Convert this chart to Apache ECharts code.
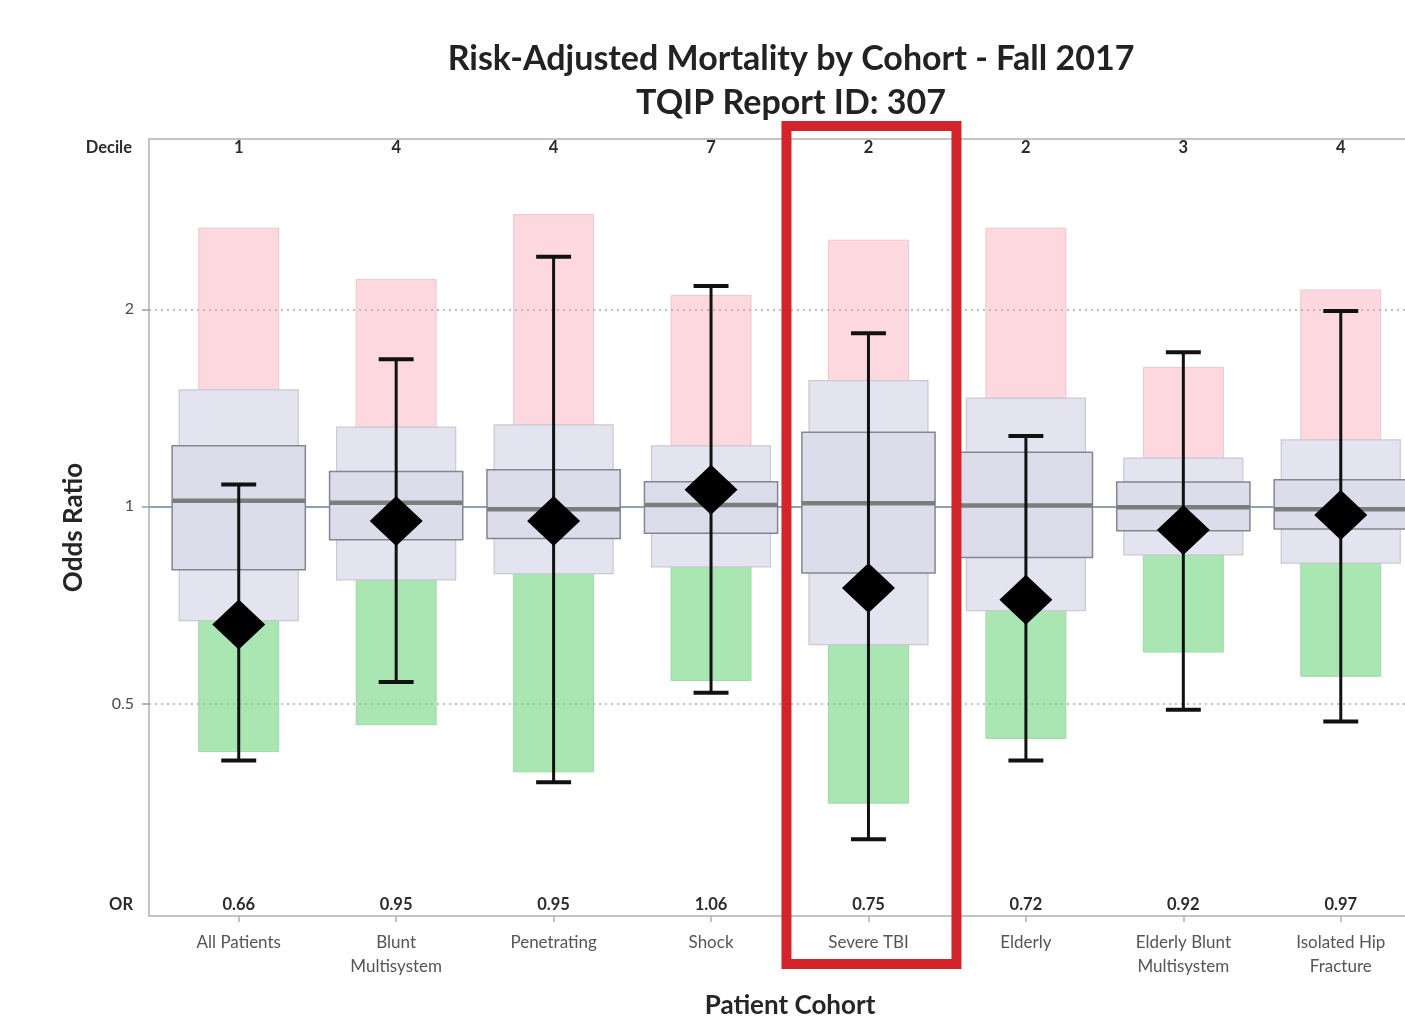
<!DOCTYPE html>
<html>
<head>
<meta charset="utf-8">
<script src="https://cdn.jsdelivr.net/npm/echarts@6/dist/echarts.min.js"></script>
<style>
  html, body { margin: 0; padding: 0; background: #ffffff; }
  #chart { width: 1405px; height: 1017px; }
</style>
</head>
<body>
<div id="chart"></div>
<script>
// Cohorts and their summary statistics (odds ratios, log scale)
const cohorts = ['All Patients', 'Blunt\nMultisystem', 'Penetrating', 'Shock', 'Severe TBI', 'Elderly', 'Elderly Blunt\nMultisystem', 'Isolated Hip\nFracture'];
const deciles = [1, 4, 4, 7, 2, 2, 3, 4];
const oddsRatio = [0.66, 0.95, 0.95, 1.06, 0.75, 0.72, 0.92, 0.97];
const ciLower = [0.409, 0.539, 0.379, 0.519, 0.310, 0.409, 0.489, 0.469];
const ciUpper = [1.080, 1.678, 2.406, 2.171, 1.838, 1.281, 1.719, 1.988];

// Distribution bands of peer odds ratios per cohort
const highBandTop = [2.66, 2.22, 2.79, 2.10, 2.55, 2.66, 1.63, 2.14];
const outerHigh = [1.506, 1.321, 1.332, 1.237, 1.556, 1.463, 1.185, 1.263];
const innerHigh = [1.237, 1.130, 1.137, 1.090, 1.298, 1.210, 1.089, 1.098];
const medianOR = [1.020, 1.013, 0.990, 1.005, 1.011, 1.003, 0.997, 0.990];
const innerLow = [0.800, 0.889, 0.893, 0.910, 0.791, 0.835, 0.918, 0.923];
const outerLow = [0.669, 0.772, 0.789, 0.808, 0.615, 0.693, 0.843, 0.819];
const lowBandBottom = [0.422, 0.464, 0.393, 0.542, 0.352, 0.442, 0.599, 0.550];

const yTickValues = [0.5, 1, 2];
const highlighted = 'Severe TBI';

const FONT = 'Lato, "Noto Sans", sans-serif';
const GRID = { left: 149, right: 0, top: 139, bottom: 101 };
const X_MIN = -0.570;
const X_MAX = 7.408;
const cohortIdx = cohorts.map((_, i) => i);

const bandData = cohortIdx.map(i => [i, highBandTop[i], outerHigh[i], innerHigh[i], medianOR[i], innerLow[i], outerLow[i], lowBandBottom[i]]);
const ciData = cohortIdx.map(i => [i, ciLower[i], ciUpper[i]]);
const orPoints = cohortIdx.map(i => [i, oddsRatio[i]]);
const rowText = cohortIdx.map(i => [i, deciles[i], oddsRatio[i]]);

function renderBands(params, api) {
  const i = api.value(0);
  const y = v => api.coord([i, v])[1];
  const x = dx => api.coord([i + dx, 1])[0];
  const rect = (half, top, bottom, style) => ({
    type: 'rect',
    shape: { x: x(-half), y: y(top), width: x(half) - x(-half), height: y(bottom) - y(top) },
    style: style
  });
  const [top, oHi, iHi, med, iLo, oLo, bottom] = [1, 2, 3, 4, 5, 6, 7].map(k => api.value(k));
  return {
    type: 'group',
    children: [
      rect(0.254, top, oHi, { fill: '#fdd9df', stroke: '#ecc6cc', lineWidth: 1 }),
      rect(0.254, oLo, bottom, { fill: '#a9e6b2', stroke: '#9fd9a8', lineWidth: 1 }),
      rect(0.378, oHi, oLo, { fill: '#e4e4f0', stroke: '#c9c9d3', lineWidth: 1.2 }),
      rect(0.423, iHi, iLo, { fill: '#dcdcea', stroke: '#858590', lineWidth: 1.5 }),
      { type: 'line', shape: { x1: x(-0.423), y1: y(med), x2: x(0.423), y2: y(med) },
        style: { stroke: '#7d7d7d', lineWidth: 4.5 } }
    ]
  };
}

function renderErrorBars(params, api) {
  const i = api.value(0);
  const lo = api.coord([i, api.value(1)]);
  const hi = api.coord([i, api.value(2)]);
  const capL = api.coord([i - 0.111, 1])[0];
  const capR = api.coord([i + 0.111, 1])[0];
  return {
    type: 'group',
    children: [
      { type: 'line', shape: { x1: lo[0], y1: lo[1], x2: hi[0], y2: hi[1] }, style: { stroke: '#111111', lineWidth: 3 } },
      { type: 'line', shape: { x1: capL, y1: hi[1], x2: capR, y2: hi[1] }, style: { stroke: '#111111', lineWidth: 4 } },
      { type: 'line', shape: { x1: capL, y1: lo[1], x2: capR, y2: lo[1] }, style: { stroke: '#111111', lineWidth: 4 } }
    ]
  };
}

function renderRowText(params, api) {
  const cs = params.coordSys;
  const i = api.value(0);
  const cx = api.coord([i, 1])[0];
  const topY = cs.y + 9;
  const botY = cs.y + cs.height - 11;
  const font = 'bold 16.5px ' + FONT;
  const children = [
    { type: 'text', x: cx, y: topY,
      style: { text: String(api.value(1)), align: 'center', verticalAlign: 'middle', font: font, fill: '#2b2b2b' } },
    { type: 'text', x: cx, y: botY,
      style: { text: api.value(2).toFixed(2), align: 'center', verticalAlign: 'middle', font: font, fill: '#2b2b2b' } }
  ];
  if (params.dataIndex === 0) {
    children.push(
      { type: 'text', x: cs.x - 17, y: topY,
        style: { text: 'Decile', align: 'right', verticalAlign: 'middle', font: font, fill: '#2b2b2b' } },
      { type: 'text', x: cs.x - 16, y: botY,
        style: { text: 'OR', align: 'right', verticalAlign: 'middle', font: font, fill: '#2b2b2b' } }
    );
  }
  return { type: 'group', children: children };
}

const chart = echarts.init(document.getElementById('chart'), null, { renderer: 'canvas' });

const borderLine = { show: true, onZero: false, lineStyle: { color: '#c4c4c4', width: 2 } };

chart.setOption({
  animation: false,
  backgroundColor: '#ffffff',
  title: {
    text: 'Risk-Adjusted Mortality by Cohort - Fall 2017\nTQIP Report ID: 307',
    left: 786,
    top: 32,
    textAlign: 'center',
    textStyle: { fontFamily: FONT, fontWeight: 'bold', fontSize: 34, lineHeight: 44, color: '#222222' }
  },
  grid: Object.assign({ show: false, containLabel: false, outerBoundsMode: 'none' }, GRID),
  xAxis: [{
    type: 'value',
    position: 'bottom',
    min: X_MIN,
    max: X_MAX,
    axisLine: borderLine,
    axisTick: { show: true, customValues: cohortIdx, length: 6, lineStyle: { color: '#b0b0b0', width: 1.5 } },
    axisLabel: {
      customValues: cohortIdx,
      formatter: v => cohorts[Math.round(v)],
      margin: 15,
      fontFamily: FONT, fontSize: 17, lineHeight: 24, color: '#555555'
    },
    splitLine: { show: false },
    name: 'Patient Cohort',
    nameLocation: 'middle',
    nameGap: 77,
    nameTextStyle: { fontFamily: FONT, fontWeight: 'bold', fontSize: 26, color: '#262626', padding: [0, 0, 0, 26] }
  }, {
    // top frame line
    type: 'value',
    position: 'top',
    min: X_MIN,
    max: X_MAX,
    axisLine: borderLine,
    axisTick: { show: false },
    axisLabel: { show: false },
    splitLine: { show: false }
  }],
  yAxis: {
    type: 'log',
    logBase: 2,
    min: 0.2367,
    max: 3.64,
    axisLine: borderLine,
    axisTick: { show: true, customValues: yTickValues, length: 7, lineStyle: { color: '#9a9a9a', width: 1.5 } },
    axisLabel: {
      customValues: yTickValues,
      formatter: v => String(v),
      margin: 15,
      fontFamily: FONT, fontSize: 16, color: '#4a4a4a'
    },
    splitLine: { show: false },
    name: 'Odds Ratio',
    nameLocation: 'middle',
    nameGap: 62,
    nameTextStyle: { fontFamily: FONT, fontWeight: 'bold', fontSize: 26, color: '#262626' }
  },
  series: [
    {
      // reference line at OR = 1, behind the boxes
      type: 'line',
      z: 1,
      data: [],
      silent: true,
      markLine: {
        z: 1,
        silent: true,
        symbol: 'none',
        label: { show: false },
        lineStyle: { type: 'solid', color: '#8aa3b6', width: 2 },
        data: [{ yAxis: 1 }]
      }
    },
    {
      type: 'custom',
      z: 2,
      silent: true,
      renderItem: renderBands,
      data: bandData
    },
    {
      // dotted grid lines at 0.5 and 2
      type: 'line',
      z: 3,
      data: [],
      silent: true,
      markLine: {
        z: 3,
        silent: true,
        symbol: 'none',
        label: { show: false },
        lineStyle: { type: [2, 4], color: '#ababab', width: 1.5 },
        data: [{ yAxis: 0.5 }, { yAxis: 2 }]
      }
    },
    {
      type: 'custom',
      z: 4,
      silent: true,
      renderItem: renderErrorBars,
      data: ciData
    },
    {
      type: 'scatter',
      z: 5,
      symbol: 'diamond',
      symbolSize: [53, 50],
      itemStyle: { color: '#000000', opacity: 1 },
      data: orPoints
    },
    {
      type: 'custom',
      z: 6,
      silent: true,
      renderItem: renderRowText,
      data: rowText
    }
  ]
});

// Highlight frame around the selected cohort
const hIdx = cohorts.indexOf(highlighted);
const hx = chart.convertToPixel({ gridIndex: 0 }, [hIdx, 1])[0];
const frameTop = GRID.top - 13;
const frameBottom = chart.getHeight() - GRID.bottom + 48;
chart.setOption({
  graphic: [{
    type: 'rect',
    z: 100,
    silent: true,
    shape: { x: hx - 82, y: frameTop, width: 170, height: frameBottom - frameTop },
    style: { fill: 'none', stroke: '#d3232b', lineWidth: 10 }
  }]
});
</script>
</body>
</html>
